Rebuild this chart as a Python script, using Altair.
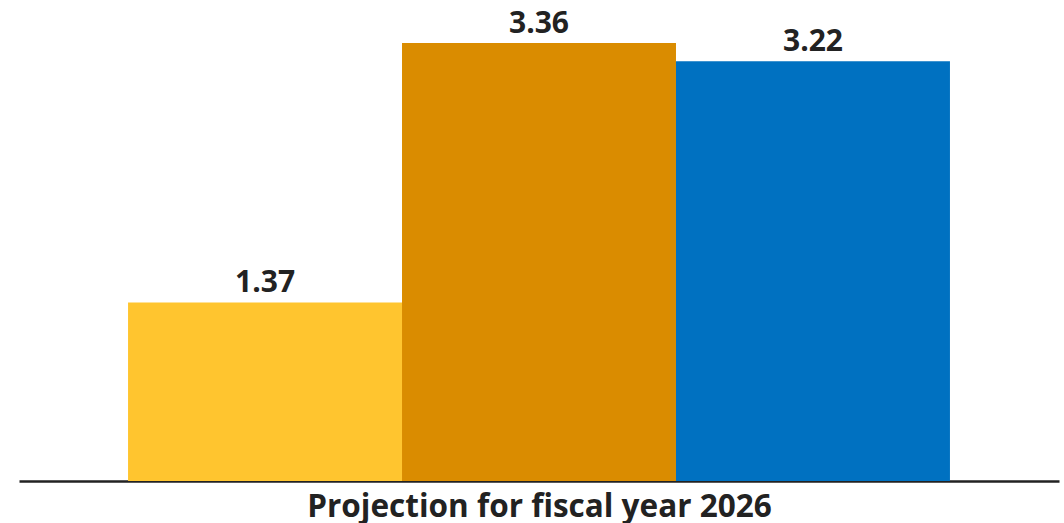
import altair as alt
import pandas as pd

series = ["Series A", "Series B", "Series C"]
values = [1.37, 3.36, 3.22]
colors = ["#FFC52F", "#DA8C00", "#0071C1"]
category = "Projection for fiscal year 2026"

df = pd.DataFrame({"series": series, "value": values, "label": [f"{v:.2f}" for v in values]})

x = alt.X("series:N", sort=series,
          scale=alt.Scale(paddingInner=0, paddingOuter=0.398),
          axis=alt.Axis(labels=False, ticks=False, domainColor="#222222", domainWidth=2.5,
                        title=category, titleFontSize=31.5, titleFont="Open Sans",
                        titleFontWeight="bold", titleColor="#222222", titlePadding=10))
y = alt.Y("value:Q", scale=alt.Scale(domain=[0, 3.69], nice=False, zero=True), axis=None)

bars = alt.Chart(df).mark_bar().encode(
    x=x, y=y,
    color=alt.Color("series:N", scale=alt.Scale(domain=series, range=colors), legend=None),
)
text = alt.Chart(df).mark_text(font="Open Sans", fontWeight="bold", fontSize=30,
                               color="#222222", baseline="bottom", dy=-4).encode(
    x=alt.X("series:N", sort=series), y="value:Q", text="label:N")

chart = (bars + text).properties(
    width=1040, height=481,
    autosize=alt.AutoSizeParams(type="none"),
    padding={"left": 19, "top": 0, "right": 5, "bottom": 42},
).configure_view(stroke=None)

chart.save("out.html", embed_options={"renderer": "svg", "actions": False})
